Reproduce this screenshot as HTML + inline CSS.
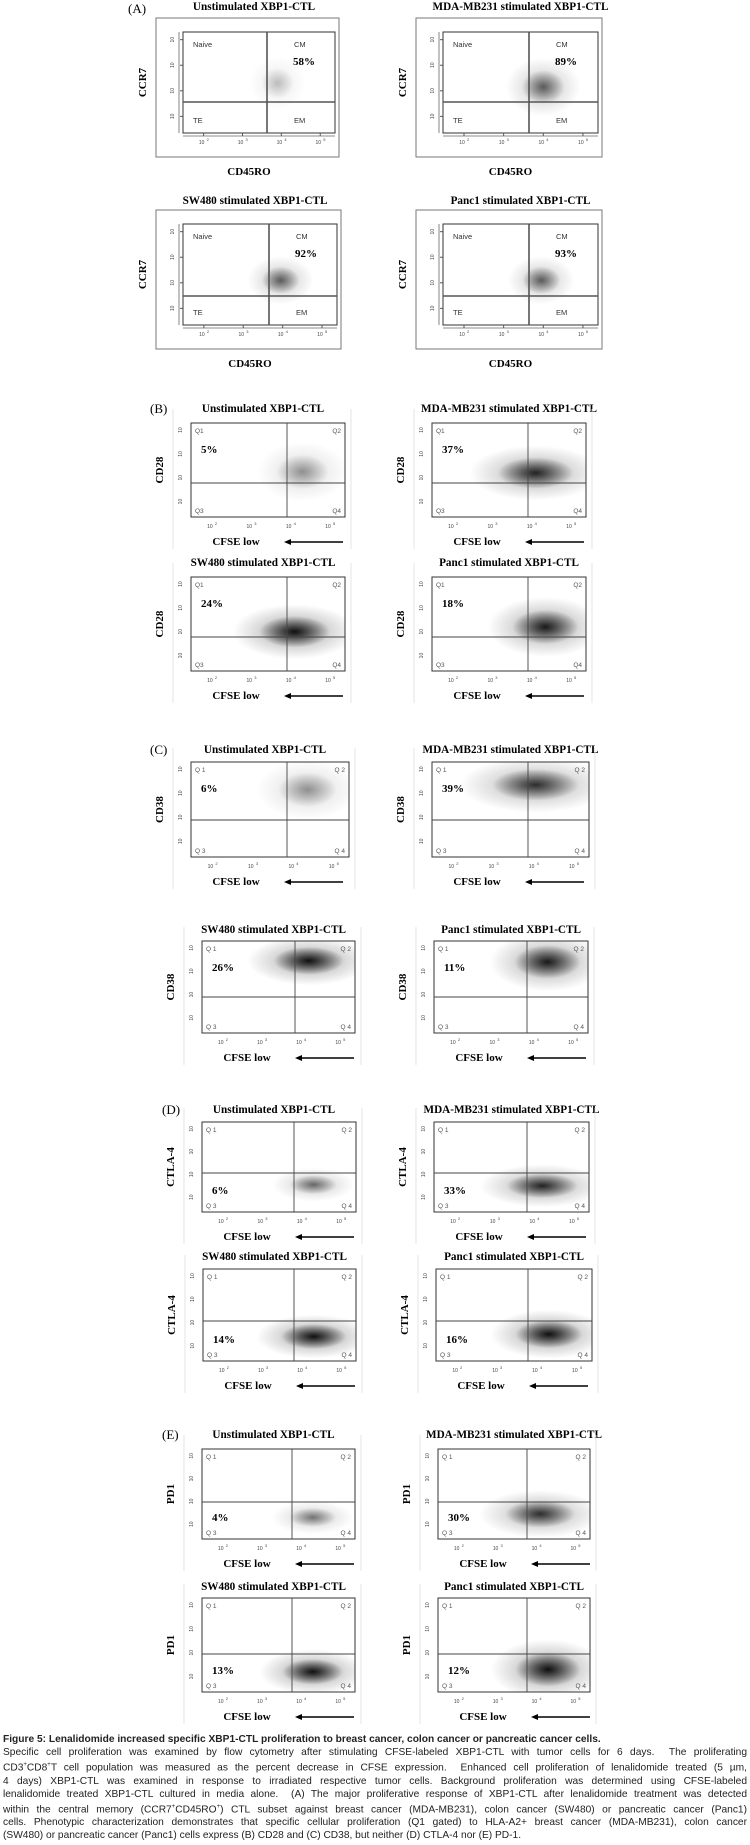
<!DOCTYPE html>
<html><head><meta charset="utf-8">
<style>
html,body{margin:0;padding:0;background:#fff;}
body{width:750px;height:1845px;position:relative;overflow:hidden;}
#fig{position:absolute;left:0;top:0;}
#cap{position:absolute;left:3px;top:1733px;width:744px;font-family:"Liberation Sans",sans-serif;font-size:10.2px;line-height:13.1px;color:#222;}
#cap div{text-align:justify;text-align-last:justify;white-space:nowrap;}
#cap div.l{text-align-last:left;}
</style></head>
<body>
<svg id="fig" width="750" height="1730" xmlns="http://www.w3.org/2000/svg">
<defs>
<radialGradient id="g" cx="0.5" cy="0.5" r="0.5">
<stop offset="0" stop-color="#000" stop-opacity="1"/>
<stop offset="0.45" stop-color="#000" stop-opacity="0.55"/>
<stop offset="1" stop-color="#000" stop-opacity="0"/>
</radialGradient>
</defs>
</svg>
<div id="cap">
<div style="font-weight:bold" class="l">Figure 5: Lenalidomide increased specific XBP1-CTL proliferation to breast cancer, colon cancer or pancreatic cancer cells.</div>
<div>Specific cell proliferation was examined by flow cytometry after stimulating CFSE-labeled XBP1-CTL with tumor cells for 6 days.&nbsp; The proliferating</div>
<div>CD3<sup style="font-size:6px">+</sup>CD8<sup style="font-size:6px">+</sup>T cell population was measured as the percent decrease in CFSE expression.&nbsp; Enhanced cell proliferation of lenalidomide treated (5 µm,</div>
<div>4 days) XBP1-CTL was examined in response to irradiated respective tumor cells. Background proliferation was determined using CFSE-labeled</div>
<div>lenalidomide treated XBP1-CTL cultured in media alone.&nbsp; (A) The major proliferative response of XBP1-CTL after lenalidomide treatment was detected</div>
<div>within the central memory (CCR7<sup style="font-size:6px">+</sup>CD45RO<sup style="font-size:6px">+</sup>) CTL subset against breast cancer (MDA-MB231), colon cancer (SW480) or pancreatic cancer (Panc1)</div>
<div>cells. Phenotypic characterization demonstrates that specific cellular proliferation (Q1 gated) to HLA-A2+ breast cancer (MDA-MB231), colon cancer</div>
<div class="l">(SW480) or pancreatic cancer (Panc1) cells express (B) CD28 and (C) CD38, but neither (D) CTLA-4 nor (E) PD-1.</div>
</div>
<script>
// ---- data ----
const titles = ["Unstimulated XBP1-CTL","MDA-MB231 stimulated XBP1-CTL","SW480 stimulated XBP1-CTL","Panc1 stimulated XBP1-CTL"];
const sections = ["A","B","C","D","E"];
const markers = ["CCR7","CD28","CD38","CTLA-4","PD1"];
const pctA = ["58%","89%","92%","93%"];
const pctB = ["5%","37%","24%","18%"];
const pctC = ["6%","39%","26%","11%"];
const pctD = ["6%","33%","14%","16%"];
const pctE = ["4%","30%","13%","12%"];
const xTicks = [2,3,4,5];
const yTicks = [2,3,4,5];
// cloud centres (log10 units), spreads and density per panel
const cloudX = [[3.9,4.0,3.95,3.95],[4.3,4.1,4.1,4.35],[4.35,4.05,4.2,4.35],[4.3,4.2,4.3,4.3],[4.3,4.1,4.3,4.3]];
const cloudY = [[3.3,3.15,3.1,3.1],[3.25,3.2,3.0,3.2],[4.15,4.35,4.45,4.4],[2.55,2.5,2.4,2.5],[2.3,2.45,2.2,2.3]];
const cloudSX = [[0.35,0.45,0.4,0.4],[0.55,0.8,0.75,0.7],[0.6,0.9,0.75,0.7],[0.5,0.75,0.7,0.7],[0.5,0.75,0.65,0.7]];
const cloudSY = [[0.5,0.55,0.45,0.45],[0.6,0.55,0.55,0.6],[0.6,0.55,0.5,0.6],[0.35,0.45,0.45,0.5],[0.35,0.5,0.45,0.6]];
const cloudD = [[0.2,0.55,0.55,0.55],[0.35,0.8,0.9,0.85],[0.35,0.75,0.9,0.85],[0.5,0.8,0.9,0.9],[0.45,0.75,0.9,0.9]];
const pcts = [pctA,pctB,pctC,pctD,pctE];

// ---- layout (pixels) ----
const L = [
 [[183,32,152,101,267,102],[443,32,155,101,529,102],[183,224,154,101,269,296],[443,224,155,101,529,296]],
 [[191,423,154,94,287,483],[432,423,154,94,528,483],[191,577,154,94,287,637],[432,577,154,94,528,637]],
 [[191,762,158,95,287,820],[432,762,157,95,528,820],[202,941,153,92,295,997],[434,941,154,92,527,997]],
 [[202,1122,154,90,294,1173],[434,1122,155,90,527,1173],[203,1269,153,92,294,1321],[436,1269,156,92,528,1321]],
 [[202,1449,153,90,292,1502],[438,1449,152,90,527,1502],[202,1598,153,94,292,1654],[438,1598,152,94,527,1654]]
];
const titleY = [[6,6,200,200],[408,408,562,562],[749,749,929,929],[1109,1109,1256,1256],[1434,1434,1586,1586]];
const secPos = [[128,8],[150,408],[150,749],[162,1109],[162,1434]];

const svg = document.getElementById('fig');
const NS = 'http://www.w3.org/2000/svg';
function mk(tag, attrs, parent){const e=document.createElementNS(NS,tag);for(const k in attrs)e.setAttribute(k,attrs[k]);(parent||svg).appendChild(e);return e;}
function txt(s, attrs, parent){const e=mk('text',attrs,parent);e.textContent=s;return e;}

sections.forEach((sec,si)=>{
  const sl = txt('('+sec+')',{x:secPos[si][0],y:secPos[si][1]+5,'font-family':'Liberation Serif,serif','font-size':13});
  
  
  for(let p=0;p<4;p++){
    const [bx,by,bw,bh,gx,gy] = L[si][p];
    const g = mk('g',{});
    
    
    const xmin=1.47,xmax=5.38,ymin=1.35,ymax=5.3;
    const sx = v=> bx + (v-xmin)/(xmax-xmin)*bw;
    const sy = v=> by+bh - (v-ymin)/(ymax-ymin)*bh;
    const tcx = bx+bw/2 + (p%2?0:-5);
    const t = txt(titles[p],{x:tcx,y:titleY[si][p]+4,'text-anchor':'middle','font-family':'Liberation Serif,serif','font-weight':'bold','font-size':11.2},g);
    
    
    if(si===0){
      mk('rect',{x:bx-27,y:by-14,width:bw+31,height:bh+38,fill:'none',stroke:'#777','stroke-width':1},g);
    }
    const clip = 'cl'+si+'_'+p;
    const cp = mk('clipPath',{id:clip},g);
    mk('rect',{x:bx,y:by,width:bw,height:bh},cp);
    const cg = mk('g',{'clip-path':`url(#${clip})`},g);
    // cloud
    const cx=cloudX[si][p], cy=cloudY[si][p];
    const rx=(cloudSX[si][p])/(xmax-xmin)*bw, ry=(cloudSY[si][p])/(ymax-ymin)*bh;
    const halo = mk('ellipse',{cx:sx(cx),cy:sy(cy),rx:rx*2.1,ry:ry*2.1,fill:'url(#g)',opacity:cloudD[si][p]*0.4},cg);
    
    
    const core = mk('ellipse',{cx:sx(cx),cy:sy(cy),rx:rx*1.2,ry:ry*1.2,fill:'url(#g)',opacity:cloudD[si][p]},cg);
    
    
    // box and gates
    const gs = si===0?'#555':'#444', gw = si===0?1.6:0.9;
    mk('rect',{x:bx,y:by,width:bw,height:bh,fill:'none',stroke:'#333','stroke-width':1},g);
    mk('line',{x1:gx,y1:by,x2:gx,y2:by+bh,stroke:gs,'stroke-width':gw},g);
    mk('line',{x1:bx,y1:gy,x2:bx+bw,y2:gy,stroke:gs,'stroke-width':gw},g);
    // ticks
    xTicks.forEach(v=>{txt('10',{x:sx(v)-2,y:by+bh+11,'font-family':'Liberation Sans,sans-serif','font-size':5,fill:'#444','text-anchor':'middle'},g);
      txt(String(v),{x:sx(v)+3,y:by+bh+8,'font-family':'Liberation Sans,sans-serif','font-size':4,fill:'#444'},g);
      if(si===0) mk('line',{x1:sx(v),y1:by+bh,x2:sx(v),y2:by+bh+3,stroke:'#555'},g);});
    yTicks.forEach(v=>{const tx=bx-9, ty=sy(v);
      txt('10',{x:tx,y:ty,'font-family':'Liberation Sans,sans-serif','font-size':5,fill:'#444','text-anchor':'middle',transform:`rotate(-90 ${tx} ${ty})`},g);
      if(si===0) mk('line',{x1:bx-3,y1:ty,x2:bx,y2:ty,stroke:'#555'},g);});
    if(si===0){
      mk('line',{x1:bx-4,y1:by,x2:bx-4,y2:by+bh,stroke:'#666','stroke-width':0.8},g);
      mk('line',{x1:bx,y1:by+bh+3,x2:bx+bw,y2:by+bh+3,stroke:'#666','stroke-width':0.8},g);
      const q=[['Naive',bx+10,by+15],['CM',gx+27,by+15],['TE',bx+10,by+bh-10],['EM',gx+27,by+bh-10]];
      q.forEach(a=>txt(a[0],{x:a[1],y:a[2],'font-family':'Liberation Sans,sans-serif','font-size':7.5,fill:'#333'},g));
      const pc = txt(pcts[si][p],{x:gx+26,y:by+33,'font-family':'Liberation Serif,serif','font-weight':'bold','font-size':11},g);
      
      
      const yl = txt(markers[si],{x:bx-37,y:by+bh/2,'text-anchor':'middle','font-family':'Liberation Serif,serif','font-weight':'bold','font-size':11,transform:`rotate(-90 ${bx-37} ${by+bh/2})`},g);
      
      
      const xl = txt('CD45RO',{x:bx+bw/2-10,y:by+bh+42,'text-anchor':'middle','font-family':'Liberation Serif,serif','font-weight':'bold','font-size':11},g);
      
      
    } else {
      const qf={'font-family':'Liberation Sans,sans-serif','font-size':6.5,fill:'#555'};
      const sp = si>=2?' ':'';
      txt('Q'+sp+'1',Object.assign({x:bx+4,y:by+10},qf),g);
      txt('Q'+sp+'2',Object.assign({x:bx+bw-4,y:by+10,'text-anchor':'end'},qf),g);
      txt('Q'+sp+'3',Object.assign({x:bx+4,y:by+bh-4},qf),g);
      txt('Q'+sp+'4',Object.assign({x:bx+bw-4,y:by+bh-4,'text-anchor':'end'},qf),g);
      const py = si>=3 ? by+bh-18 : by+30;
      const pc = txt(pcts[si][p],{x:bx+10,y:py,'font-family':'Liberation Serif,serif','font-weight':'bold','font-size':11},g);
      
      
      const ylx = bx-28;
      const yl = txt(markers[si],{x:ylx,y:by+bh/2,'text-anchor':'middle','font-family':'Liberation Serif,serif','font-weight':'bold','font-size':11,transform:`rotate(-90 ${ylx} ${by+bh/2})`},g);
      
      
      const ly = by+bh+28;
      const xl = txt('CFSE low',{x:bx+45,y:ly,'text-anchor':'middle','font-family':'Liberation Serif,serif','font-weight':'bold','font-size':11},g);
      
      
      const ar = mk('g',{},g);
      
      
      mk('line',{x1:bx+97,y1:ly-3,x2:bx+152,y2:ly-3,stroke:'#000','stroke-width':1.6},ar);
      mk('polygon',{points:`${bx+93},${ly-3} ${bx+100},${ly-6} ${bx+100},${ly}`,fill:'#000'},ar);
      mk('line',{x1:bx-18,y1:by-14,x2:bx-18,y2:ly+4,stroke:'#ddd','stroke-width':0.8},g);
      mk('line',{x1:bx+bw+6,y1:by-14,x2:bx+bw+6,y2:ly+4,stroke:'#ddd','stroke-width':0.8},g);
    }
  }
});
</script>
</body></html>
